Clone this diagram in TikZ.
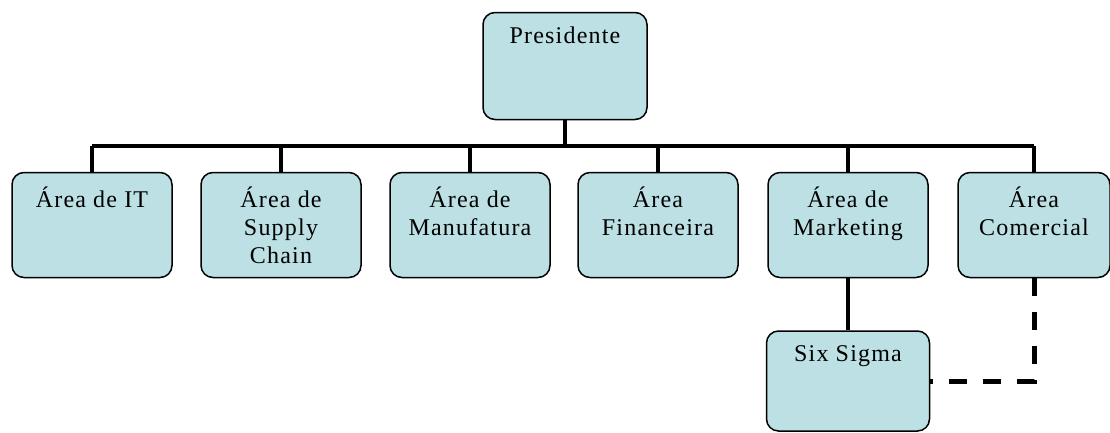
\documentclass[tikz,border=0pt]{standalone}
\usepackage{fontspec}
\setmainfont[LetterSpace=5]{Liberation Serif}
\usepackage{xcolor}
\usetikzlibrary{positioning,calc}

\definecolor{boxfill}{RGB}{188,224,227}

\begin{document}
\begin{tikzpicture}[
		x=1pt,y=-1pt,
		line cap=butt,line join=miter,
		font=\fontsize{24}{28}\selectfont,
		unit/.style={draw=black, fill=boxfill, line width=1.5pt,
			rounded corners=12pt, inner sep=0pt,
			minimum width=160pt, minimum height=105pt},
		txt/.style={anchor=north, align=center, inner sep=0pt, yshift=-15pt},
		conn/.style={black, line width=4pt},
		dotted link/.style={black, line width=5pt, dash pattern=on 18pt off 16pt}
		]
		%----- frame of the picture
		\useasboundingbox (0,0) rectangle (1110,432);
		
		%----- top box
		\node[unit, minimum width=164pt, minimum height=107pt,
			label={[txt]north:Presidente}] (pres) at (565,66) {};
		
		%----- areas (row of boxes)
		\def\rowY{225}
		\node[unit, label={[txt]north:Área de IT}] (it) at (92,\rowY) {};
		\node[unit, label={[txt]north:Área de\\Supply\\Chain}] (supply) at (281,\rowY) {};
		\node[unit, label={[txt]north:Área de\\Manufatura}] (manuf) at (470,\rowY) {};
		\node[unit, label={[txt]north:Área\\Financeira}] (fin) at (658,\rowY) {};
		\node[unit, label={[txt]north:Área de\\Marketing}] (mkt) at (848,\rowY) {};
		\node[unit, minimum width=152pt, label={[txt]north:Área\\Comercial}] (com) at (1034,\rowY) {};
		
		%----- six sigma under marketing
		\node[unit, minimum width=163pt, minimum height=100pt,
			label={[txt]north:Six Sigma}] (six) at (848,381) {};
		
		%----- tree lines
		\coordinate (bus) at (565,146);
		\draw[conn] (pres.south) -- (pres.south |- bus);
		\draw[conn] (it.north |- bus) -- (com.north |- bus);
		\foreach \n in {it,supply,manuf,fin,mkt,com}{
			\draw[conn] (\n.north |- bus) -- (\n.north);
		}
		\draw[conn] (mkt.south) -- (six.north);
		
		% dashed link comercial -> six sigma
		\draw[dotted link] (com.south) |- (six.east);
		
\end{tikzpicture}
\end{document}
